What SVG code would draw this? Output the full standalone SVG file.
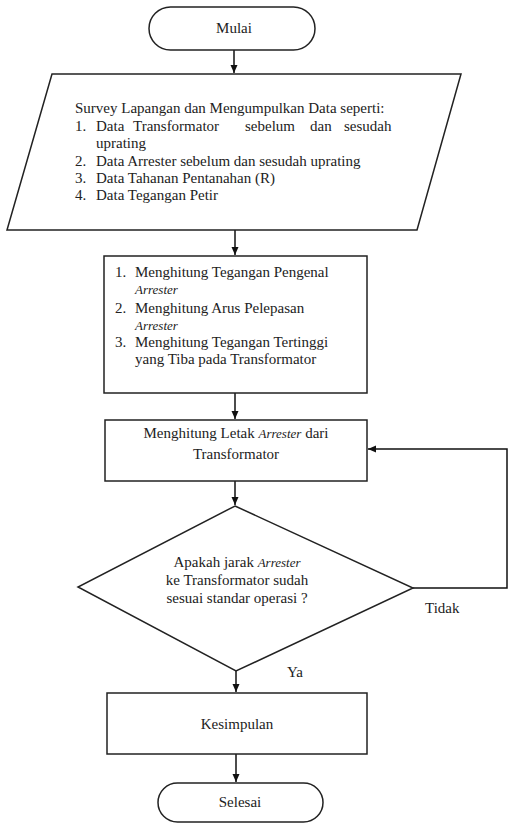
<svg xmlns="http://www.w3.org/2000/svg" width="508" height="825" viewBox="0 0 508 825">
<style>
.s{fill:#fff;stroke:#222;stroke-width:1.5}
.t{font-family:'Liberation Serif','Times New Roman',Times,serif;font-size:15px;fill:#222}
.m{text-anchor:middle}
.i{font-style:italic;font-size:13px}
.c{fill:none;stroke:#111;stroke-width:1.5}
</style>
<defs>
<marker id="ah" viewBox="0 0 8 8" refX="8" refY="4" markerWidth="8" markerHeight="8" markerUnits="userSpaceOnUse" orient="auto">
<path d="M0,0.5 L8,4 L0,7.5 Z" fill="#111"/>
</marker>
</defs>
<rect width="508" height="825" fill="#fff"/>
<g id="connectors">
<line class="c" x1="234" y1="50" x2="234" y2="73" marker-end="url(#ah)"/>
<line class="c" x1="235" y1="230" x2="235" y2="255" marker-end="url(#ah)"/>
<line class="c" x1="235" y1="393" x2="235" y2="419" marker-end="url(#ah)"/>
<line class="c" x1="235" y1="481" x2="235" y2="505" marker-end="url(#ah)"/>
<line class="c" x1="236" y1="671" x2="236" y2="692" marker-end="url(#ah)"/>
<line class="c" x1="236" y1="754" x2="236" y2="782" marker-end="url(#ah)"/>
<polyline class="c" points="413,588 507,588 507,449 368,449" marker-end="url(#ah)"/>
<text class="t" x="425" y="613">Tidak</text>
<text class="t" x="287" y="677">Ya</text>
</g>
<g id="mulai">
<rect class="s" x="149" y="7" width="166" height="43" rx="21.5"/>
<text class="t m" x="234" y="33">Mulai</text>
</g>
<g id="survey">
<polygon class="s" points="52,74 461,74 417,230 7,230"/>
<text class="t" x="75" y="113">Survey Lapangan dan Mengumpulkan Data seperti:</text>
<text class="t" x="75" y="131">1.</text>
<text class="t" y="131"><tspan x="96">Data</tspan><tspan x="133">Transformator</tspan><tspan x="245">sebelum</tspan><tspan x="310">dan</tspan><tspan x="344">sesudah</tspan></text>
<text class="t" x="96" y="148">uprating</text>
<text class="t" x="75" y="166">2.</text>
<text class="t" x="96" y="166">Data Arrester sebelum dan sesudah uprating</text>
<text class="t" x="75" y="183">3.</text>
<text class="t" x="96" y="183">Data Tahanan Pentanahan (R)</text>
<text class="t" x="75" y="200">4.</text>
<text class="t" x="96" y="200">Data Tegangan Petir</text>
</g>
<g id="hitung">
<rect class="s" x="104" y="256" width="263" height="137"/>
<text class="t" x="115" y="277">1.</text>
<text class="t" x="135" y="277">Menghitung Tegangan Pengenal</text>
<text class="t i" x="135" y="294">Arrester</text>
<text class="t" x="115" y="313">2.</text>
<text class="t" x="135" y="313">Menghitung Arus Pelepasan</text>
<text class="t i" x="135" y="330">Arrester</text>
<text class="t" x="115" y="347">3.</text>
<text class="t" x="135" y="347">Menghitung Tegangan Tertinggi</text>
<text class="t" x="135" y="364">yang Tiba pada Transformator</text>
</g>
<g id="letak">
<rect class="s" x="105" y="420" width="262" height="61"/>
<text class="t m" x="236" y="438">Menghitung Letak <tspan class="i">Arrester</tspan> dari</text>
<text class="t m" x="236" y="459">Transformator</text>
</g>
<g id="keputusan">
<polygon class="s" points="235,506 413,588 236,671 78,587"/>
<text class="t m" x="237" y="567">Apakah jarak <tspan class="i">Arrester</tspan></text>
<text class="t m" x="237" y="585">ke Transformator sudah</text>
<text class="t m" x="237" y="603">sesuai standar operasi ?</text>
</g>
<g id="kesimpulan">
<rect class="s" x="107" y="693" width="260" height="61"/>
<text class="t m" x="237" y="729">Kesimpulan</text>
</g>
<g id="selesai">
<rect class="s" x="158" y="783" width="165" height="39" rx="19.5"/>
<text class="t m" x="240" y="807">Selesai</text>
</g>
</svg>
